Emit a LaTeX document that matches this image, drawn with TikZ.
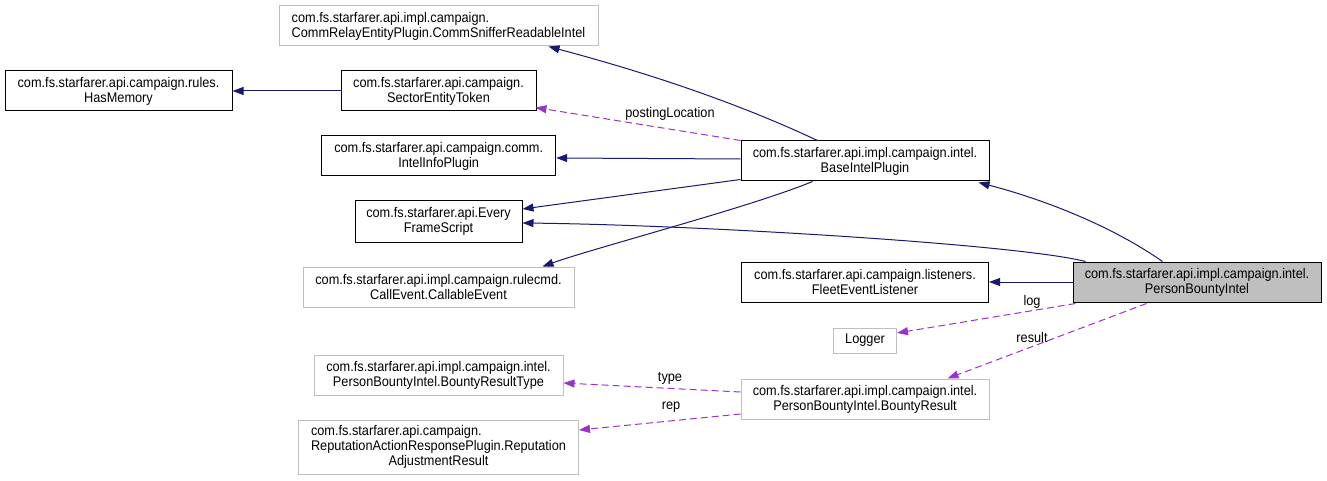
\documentclass[tikz,border=0pt]{standalone}
\usepackage{fontspec}
\setmainfont{Liberation Sans}[FakeStretch=0.91]
\usetikzlibrary{arrows.meta,calc}
\definecolor{navy}{HTML}{191970}
\definecolor{usecol}{HTML}{9A32CD}
\definecolor{grayedge}{HTML}{BFBFBF}
\definecolor{grayfill}{HTML}{BFBFBF}
\begin{document}
\begin{tikzpicture}[x=1pt,y=-1pt,
  every node/.style={font=\fontsize{14}{15}\selectfont, inner sep=0pt, align=center},
  cls/.style={draw=black, line width=1pt, rectangle},
  gcls/.style={draw=grayedge, line width=1pt, rectangle},
  main/.style={draw=black, fill=grayfill, line width=1pt, rectangle},
  inh/.style={draw=navy, line width=1pt, -{Triangle[length=11pt,width=8pt]}},
  use/.style={draw=usecol, line width=1pt, dash pattern=on 7pt off 4pt, -{Triangle[length=11pt,width=8pt]}},
  lbl/.style={font=\fontsize{14}{15}\selectfont}
]
\useasboundingbox (0,0) rectangle (1327,481);

% left-most
\node[cls, minimum width=227pt, minimum height=40pt] (hm) at (118.5,91) {com.fs.starfarer.api.campaign.rules.\\HasMemory};

% middle column
\node[gcls, minimum width=319pt, minimum height=40pt] (cs) at (438.5,26) {\rlap{com.fs.starfarer.api.impl.campaign.}\phantom{CommRelayEntityPlugin.CommSnifferReadableIntel}\\CommRelayEntityPlugin.CommSnifferReadableIntel};
\node[cls, minimum width=195pt, minimum height=40pt] (set) at (438.5,91) {com.fs.starfarer.api.campaign.\\SectorEntityToken};
\node[cls, minimum width=234pt, minimum height=40pt] (iip) at (438.7,156) {com.fs.starfarer.api.campaign.comm.\\IntelInfoPlugin};
\node[cls, minimum width=167pt, minimum height=41pt] (efs) at (438.5,221.5) {com.fs.starfarer.api.Every\\FrameScript};
\node[gcls, minimum width=271pt, minimum height=40pt] (ce) at (438.5,287) {com.fs.starfarer.api.impl.campaign.rulecmd.\\CallEvent.CallableEvent};
\node[gcls, minimum width=249pt, minimum height=40pt] (brt) at (438.5,375) {com.fs.starfarer.api.impl.campaign.intel.\\PersonBountyIntel.BountyResultType};
\node[gcls, minimum width=280pt, minimum height=54pt] (rar) at (438.5,447) {\rlap{com.fs.starfarer.api.campaign.}\phantom{ReputationActionResponsePlugin.Reputation}\\ReputationActionResponsePlugin.Reputation\\AdjustmentResult};

% second column
\node[cls, minimum width=248pt, minimum height=40pt] (bip) at (865,161) {com.fs.starfarer.api.impl.campaign.intel.\\BaseIntelPlugin};
\node[cls, minimum width=247pt, minimum height=40pt] (fel) at (865,282) {com.fs.starfarer.api.campaign.listeners.\\FleetEventListener};
\node[gcls, minimum width=63pt, minimum height=25pt] (logger) at (865,340.5) {Logger};
\node[gcls, minimum width=248pt, minimum height=40pt] (br) at (865,399) {com.fs.starfarer.api.impl.campaign.intel.\\PersonBountyIntel.BountyResult};

% main
\node[main, minimum width=248pt, minimum height=40pt] (pbi) at (1197,282) {com.fs.starfarer.api.impl.campaign.intel.\\PersonBountyIntel};

% edge labels
\node[lbl] (lpost) at (670,114) {postingLocation};
\node[lbl] (llog) at (1032,302) {log};
\node[lbl] (lres) at (1032,337) {result};
\node[lbl] (ltype) at (670,378) {type};
\node[lbl] (lrep) at (671,407) {rep};

% inheritance edges
\draw[inh] (set.west) -- (hm.east);
\draw[inh] ($(bip.north west)+(77,0)$) .. controls +(-98,-46) and +(71,19) .. ($(cs.south west)+(270,0)$);
\draw[inh] ($(bip.west)+(0,-2)$) -- ($(iip.east)+(0,2)$);
\draw[inh] ($(bip.south west)+(0,-2)$) -- ($(efs.east)+(0,-12.5)$);
\draw[inh] ($(bip.south west)+(72,0)$) .. controls +(-60,25) and +(50,-18) .. ($(ce.north east)+(-32,0)$);
\draw[inh] ($(pbi.north west)+(90,0)$) .. controls +(-53,-37) and +(62,16) .. ($(bip.south east)+(-11,1)$);
\draw[inh] ($(pbi.north west)+(13,0)$) .. controls +(-66,-17) and +(178,2) .. ($(efs.east)+(0,1.5)$);
\draw[inh] (pbi.west) -- (fel.east);

% usage edges
\draw[use] (bip.north west) -- ($(set.south east)+(-1,-4)$);
\draw[use] ($(pbi.south west)+(3,1)$) -- ($(logger.east)+(0,-7.5)$);
\draw[use] ($(pbi.south west)+(74,1)$) -- ($(br.north east)+(-42,0)$);
\draw[use] ($(br.west)+(0,-7)$) -- ($(brt.east)+(0,8)$);
\draw[use] ($(br.west)+(0,15)$) -- ($(rar.east)+(0,-17)$);
\end{tikzpicture}
\end{document}
